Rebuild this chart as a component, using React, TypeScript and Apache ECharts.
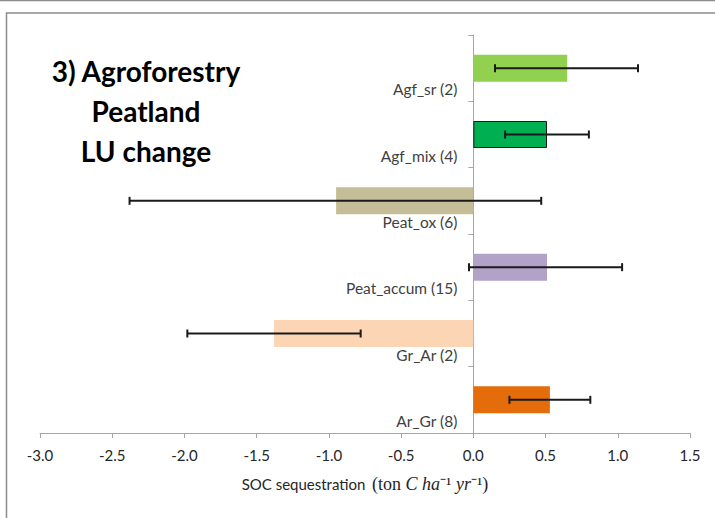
import React, { useEffect, useRef } from "react";
import * as echarts from "echarts";

const categories = ["Agf_sr (2)", "Agf_mix (4)", "Peat_ox (6)", "Peat_accum (15)", "Gr_Ar (2)", "Ar_Gr (8)"];
const means = [0.65, 0.51, -0.95, 0.51, -1.38, 0.53];
const errLow = [0.15, 0.22, -2.38, -0.03, -1.98, 0.25];
const errHigh = [1.14, 0.8, 0.47, 1.03, -0.78, 0.81];
const barColors = ["#92d050", "#00b050", "#c4bd97", "#b3a2c7", "#fcd5b5", "#e46c0a"];
const barBorders = ["none", "#1a1a1a", "none", "none", "none", "none"];
const xTicks = [-3.0, 1.5, 0.5]; // min, max, interval

export default function App() {
  const ref = useRef<HTMLDivElement>(null);
  useEffect(() => {
    const chart = echarts.init(ref.current!, null, { renderer: "svg" });
    const sans = "Lato, 'Open Sans', sans-serif";
    chart.setOption({
      animation: false,
      backgroundColor: "#ffffff",
      grid: { left: 40, right: 25, top: 35, bottom: 85, containLabel: false, outerBoundsMode: "none" },
      xAxis: {
        type: "value",
        min: xTicks[0],
        max: xTicks[1],
        interval: xTicks[2],
        axisLine: { show: true, lineStyle: { color: "#a6a6a6", width: 1 } },
        axisTick: { show: true, length: 5, lineStyle: { color: "#a6a6a6" } },
        splitLine: { show: false },
        axisLabel: {
          margin: 14,
          fontFamily: sans,
          fontSize: 15,
          color: "#262626",
          formatter: (v: number) => v.toFixed(1),
        },
        name: "{a|SOC sequestration}  {b|(ton }{i|C ha}{b|⁻¹ }{i|yr}{b|⁻¹)}",
        nameLocation: "middle",
        nameGap: 42,
        nameTextStyle: {
          rich: {
            a: { fontFamily: sans, fontSize: 15, color: "#262626" },
            b: { fontFamily: "'Liberation Serif', serif", fontSize: 18, color: "#262626" },
            i: { fontFamily: "'Liberation Serif', serif", fontSize: 18, fontStyle: "italic", color: "#262626" },
          },
        },
      },
      yAxis: {
        type: "category",
        data: categories,
        inverse: true,
        axisLine: { show: true, onZero: true, lineStyle: { color: "#a6a6a6", width: 1 } },
        axisTick: { show: true, length: 5, alignWithLabel: false, lineStyle: { color: "#a6a6a6" } },
        splitLine: { show: false },
        axisLabel: { show: false },
      },
      series: [
        {
          type: "bar",
          barWidth: 27,
          data: means.map((v, i) => ({
            value: v,
            itemStyle: {
              color: barColors[i],
              borderColor: barBorders[i] === "none" ? undefined : barBorders[i],
              borderWidth: barBorders[i] === "none" ? 0 : 1,
            },
          })),
          z: 2,
        },
        {
          type: "custom",
          z: 5,
          data: categories.map((c, i) => [i, errLow[i], errHigh[i]]),
          encode: { y: 0, x: [1, 2] },
          renderItem: (params: any, api: any) => {
            const idx = api.value(0);
            const p1 = api.coord([api.value(1), idx]);
            const p2 = api.coord([api.value(2), idx]);
            const h = 4;
            const style = { stroke: "#1a1a1a", lineWidth: 2 };
            return {
              type: "group",
              children: [
                { type: "line", shape: { x1: p1[0], y1: p1[1], x2: p2[0], y2: p2[1] }, style },
                { type: "line", shape: { x1: p1[0], y1: p1[1] - h, x2: p1[0], y2: p1[1] + h }, style },
                { type: "line", shape: { x1: p2[0], y1: p2[1] - h, x2: p2[0], y2: p2[1] + h }, style },
              ],
            };
          },
        },
        {
          type: "custom",
          z: 6,
          silent: true,
          data: categories.map((c, i) => [i, 0]),
          encode: { y: 0, x: 1 },
          renderItem: (params: any, api: any) => {
            const idx = api.value(0);
            const p = api.coord([0, idx]);
            return {
              type: "text",
              x: p[0] - 16,
              y: p[1] + 21,
              style: {
                text: categories[params.dataIndex],
                textAlign: "right",
                textVerticalAlign: "middle",
                font: "15.5px Lato, 'Open Sans', sans-serif",
                fill: "#404040",
              },
            };
          },
        },
      ],
      graphic: [
        { type: "line", shape: { x1: 0, y1: 0.5, x2: 715, y2: 0.5 }, style: { stroke: "#8c8c8c", lineWidth: 1.5 } },
        { type: "rect", shape: { x: 6.5, y: 13, width: 720, height: 520 }, style: { fill: "none", stroke: "#8c8c8c", lineWidth: 1.5 } },
        {
          type: "text",
          x: 146,
          y: 51,
          style: {
            text: "3) Agroforestry\nPeatland\nLU change",
            textAlign: "center",
            font: "bold 28px Lato, 'Open Sans', sans-serif",
            lineHeight: 40,
            fill: "#000",
          },
        },
      ],
    });
    return () => chart.dispose();
  }, []);
  return (
    <div
      ref={ref}
      style={{ position: "absolute", left: 0, top: 0, width: 715, height: 518 }}
    />
  );
}
